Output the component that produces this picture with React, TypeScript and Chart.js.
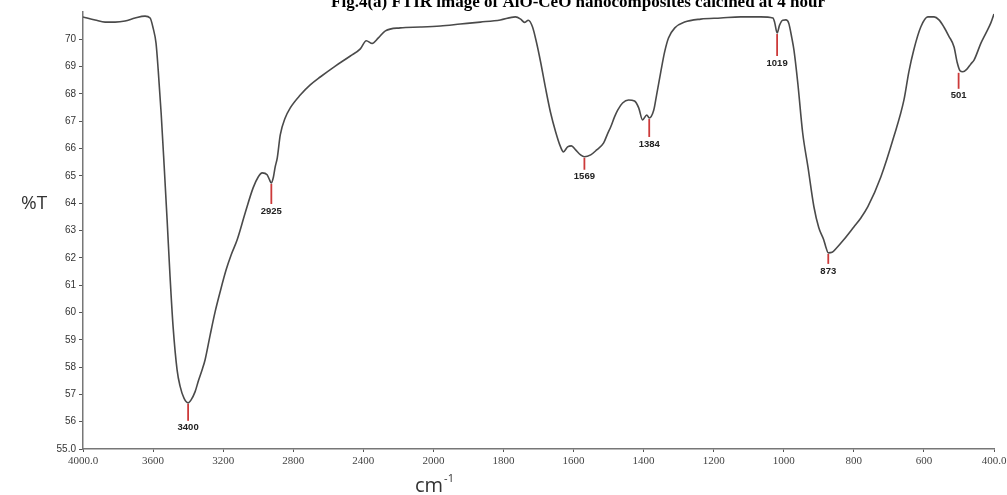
import React, { useEffect, useRef } from "react";
import { Chart, registerables } from "chart.js";

Chart.register(...registerables);

// ---- Data ----
const titleText = "Fig.4(a) FTIR image of AlO-CeO nanocomposites calcined at 4 hour";
const yAxisTitle = "%T";
const xAxisTitle = "cm";
const xAxisTitleSup = "-1";

const xTickLabels = ["4000.0", "3600", "3200", "2800", "2400", "2000", "1800", "1600", "1400", "1200", "1000", "800", "600", "400.0"];
const yTickValues = [55, 56, 57, 58, 59, 60, 61, 62, 63, 64, 65, 66, 67, 68, 69, 70];
const yTickLabels = ["55.0", "56", "57", "58", "59", "60", "61", "62", "63", "64", "65", "66", "67", "68", "69", "70"];

const wavenumbers = [
  4000, 3931, 3874, 3817, 3760, 3703, 3646, 3617, 3600, 3583, 3571, 3554, 3537, 3520, 3503, 3486, 3463, 3446, 3423, 3400,
  3383, 3360, 3343, 3320, 3303, 3274, 3246, 3217, 3183, 3154, 3120, 3074, 3029, 3000, 2977, 2949, 2935, 2925, 2913, 2903,
  2891, 2874, 2846, 2817, 2760, 2703, 2646, 2560, 2474, 2417, 2383, 2349, 2314, 2274, 2189, 2074, 1980, 1923, 1866, 1809,
  1766, 1751, 1740, 1729, 1717, 1706, 1694, 1680, 1666, 1651, 1637, 1629, 1617, 1606, 1594, 1580, 1569, 1551, 1534, 1514,
  1503, 1494, 1483, 1474, 1460, 1443, 1426, 1414, 1403, 1391, 1384, 1371, 1363, 1351, 1340, 1329, 1311, 1283, 1237, 1180,
  1123, 1066, 1031, 1026, 1019, 1012, 1003, 994, 986, 977, 971, 960, 946, 931, 914, 900, 886, 880, 873, 862,
  850, 829, 800, 780, 760, 723, 686, 657, 643, 629, 609, 589, 571, 557, 543, 529, 514, 505, 497, 489,
  478, 466, 457, 437, 423, 409, 400,
];
const transmittance = [
  70.82, 70.71, 70.63, 70.63, 70.67, 70.78, 70.85, 70.78, 70.42, 69.85, 68.90, 67.30, 65.40, 63.40, 61.30, 59.50, 57.90, 57.30, 56.85, 56.69,
  56.80, 57.10, 57.46, 57.90, 58.27, 59.18, 60.02, 60.76, 61.56, 62.11, 62.66, 63.65, 64.56, 64.96, 65.11, 65.04, 64.85, 64.74, 64.96, 65.33,
  65.66, 66.50, 67.12, 67.49, 67.96, 68.33, 68.62, 69.02, 69.39, 69.65, 69.95, 69.85, 70.05, 70.31, 70.42, 70.45, 70.49, 70.56, 70.63, 70.71,
  70.82, 70.74, 70.62, 70.70, 70.45, 69.90, 69.17, 68.22, 67.34, 66.61, 66.06, 65.88, 66.06, 66.10, 65.95, 65.77, 65.70, 65.77, 65.95, 66.21,
  66.54, 66.79, 67.16, 67.41, 67.67, 67.78, 67.74, 67.49, 67.05, 67.23, 67.12, 67.41, 67.96, 68.81, 69.54, 70.05, 70.42, 70.63, 70.74, 70.78,
  70.82, 70.82, 70.78, 70.62, 70.23, 70.52, 70.70, 70.71, 70.60, 70.05, 69.61, 68.40, 66.57, 65.33, 63.87, 63.10, 62.66, 62.40, 62.18, 62.20,
  62.35, 62.66, 63.13, 63.46, 63.87, 64.96, 66.43, 67.78, 68.81, 69.61, 70.45, 70.82, 70.82, 70.71, 70.45, 70.12, 69.72, 69.15, 68.85, 68.81,
  68.90, 69.10, 69.24, 69.87, 70.23, 70.60, 70.93,
];

const peakWavenumbers = [3400, 2925, 1569, 1384, 1019, 873, 501];
const peakTransmittance = [56.69, 64.74, 65.70, 67.12, 70.23, 62.18, 68.81];
const peakLabels = ["3400", "2925", "1569", "1384", "1019", "873", "501"];

// ---- Styles ----
const markerLengths = [17, 20, 12, 18, 22, 10, 16];

// wavenumber -> tick-index position (scale changes at 2000 cm-1)
function wnToPos(w: number): number {
  return w >= 2000 ? (4000 - w) / 400 : 5 + (2000 - w) / 200;
}

const decorPlugin = {
  id: "decor",
  afterDatasetsDraw(chart: any) {
    const ctx = chart.ctx;
    const xs = chart.scales.x;
    const ys = chart.scales.y;
    ctx.save();
    // peak markers
    peakWavenumbers.forEach((w, i) => {
      const px = xs.getPixelForValue(wnToPos(w));
      const py = ys.getPixelForValue(peakTransmittance[i]) + 1;
      const end = py + markerLengths[i];
      ctx.strokeStyle = "#cc3a3a";
      ctx.lineWidth = 1.8;
      ctx.beginPath();
      ctx.moveTo(px, py);
      ctx.lineTo(px, end);
      ctx.stroke();
      ctx.fillStyle = "#222";
      ctx.font = "bold 9.5px 'Liberation Sans'";
      ctx.textAlign = "center";
      ctx.textBaseline = "middle";
      ctx.fillText(peakLabels[i], px, end + 7);
    });
    // title (cut off at top)
    ctx.fillStyle = "#000";
    ctx.font = "bold 17px 'Liberation Serif'";
    ctx.textAlign = "center";
    ctx.textBaseline = "alphabetic";
    ctx.fillText(titleText, 578, 7);
    // y axis title
    ctx.fillStyle = "#333";
    ctx.font = "19px 'Open Sans'";
    ctx.textAlign = "left";
    ctx.textBaseline = "middle";
    ctx.fillText(yAxisTitle, 21, 204);
    // x axis title
    ctx.font = "20px 'Open Sans'";
    ctx.textBaseline = "alphabetic";
    ctx.fillText(xAxisTitle, 415, 492);
    const w = ctx.measureText(xAxisTitle).width;
    ctx.font = "11px 'Open Sans'";
    ctx.fillText(xAxisTitleSup, 415 + w + 1, 482);
    ctx.restore();
  },
};

export default function App() {
  const ref = useRef<HTMLCanvasElement | null>(null);
  useEffect(() => {
    if (!ref.current) return;
    const chart = new Chart(ref.current, {
      type: "line",
      data: {
        datasets: [
          {
            data: wavenumbers.map((w, i) => ({ x: wnToPos(w), y: transmittance[i] })),
            borderColor: "#4a4a4a",
            borderWidth: 1.6,
            pointRadius: 0,
            fill: false,
            cubicInterpolationMode: "monotone",
          },
        ],
      },
      options: {
        animation: false,
        responsive: false,
        layout: { padding: { top: 12, right: 13, left: 0, bottom: 0 } },
        plugins: { legend: { display: false }, tooltip: { enabled: false }, title: { display: false } },
        scales: {
          x: {
            type: "linear",
            min: 0,
            max: 13,
            afterBuildTicks: (s: any) => {
              s.ticks = xTickLabels.map((_, i) => ({ value: i }));
            },
            afterFit: (s: any) => {
              s.height = 46;
              s.paddingLeft = 0;
              s.paddingRight = 0;
            },
            ticks: {
              autoSkip: false,
              maxRotation: 0,
              callback: (_v: any, i: number) => xTickLabels[i],
              font: { size: 11, family: "'Liberation Serif'" },
              color: "#444",
              padding: 3,
            },
            grid: { drawOnChartArea: false, tickLength: 3, color: "#555" },
            border: { color: "#777", width: 1.5 },
          },
          y: {
            type: "linear",
            min: 55,
            max: 71,
            afterBuildTicks: (s: any) => {
              s.ticks = yTickValues.map((v) => ({ value: v }));
            },
            afterFit: (s: any) => {
              s.width = 83;
              s.paddingTop = 0;
              s.paddingBottom = 0;
            },
            ticks: {
              callback: (_v: any, i: number) => yTickLabels[i],
              font: { size: 10, family: "'Liberation Sans'" },
              color: "#333",
              padding: 3,
            },
            grid: { drawOnChartArea: false, tickLength: 4, color: "#555" },
            border: { color: "#777", width: 1.5 },
          },
        },
      },
      plugins: [decorPlugin],
    } as any);
    return () => chart.destroy();
  }, []);
  return (
    <div style={{ position: "absolute", left: 0, top: 0, width: 1007, height: 495, background: "#fff" }}>
      <canvas ref={ref} width={1007} height={495} style={{ display: "block" }} />
    </div>
  );
}
